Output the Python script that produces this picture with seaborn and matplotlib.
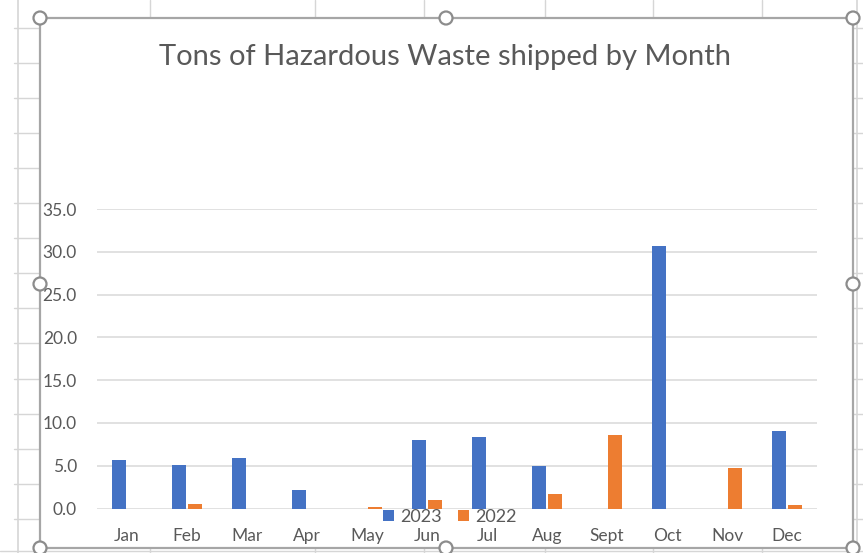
import matplotlib
matplotlib.use("Agg")
import matplotlib.pyplot as plt
import seaborn as sns
import pandas as pd
from matplotlib.lines import Line2D
from matplotlib.patches import Rectangle, Ellipse

months = ["Jan", "Feb", "Mar", "Apr", "May", "Jun", "Jul", "Aug", "Sept", "Oct", "Nov", "Dec"]
series_names = ["2023", "2022"]
tons_2023 = [5.65, 5.1, 5.85, 2.2, 0.0, 8.0, 8.35, 4.95, 0.0, 30.7, 0.0, 9.1]
tons_2022 = [0.0, 0.55, 0.0, 0.0, 0.2, 1.05, 0.0, 1.7, 8.6, 0.0, 4.7, 0.4]
y_ticks = [0, 5, 10, 15, 20, 25, 30, 35]
title = "Tons of Hazardous Waste shipped by Month"

df = pd.DataFrame({
    "Month": months * 2,
    "Year": [series_names[0]] * len(months) + [series_names[1]] * len(months),
    "Tons": tons_2023 + tons_2022,
})

sns.set_theme(style="white")
plt.rcParams["font.family"] = ["Lato", "DejaVu Sans"]

W, H = 863, 553
fig = plt.figure(figsize=(W / 100, H / 100), dpi=100)
fig.patch.set_facecolor("white")

def fx(x):
    return x / W

def fy(y):
    return 1 - y / H

# spreadsheet cell grid in background
cell = "#D6D6D6"
row_ys = [28 + 35.05 * k for k in range(16)]
col_xs = [150, 315, 424, 545, 653, 762]
for y in row_ys:
    fig.add_artist(Line2D([fx(14), fx(40)], [fy(y), fy(y)], color=cell, lw=1, transform=fig.transFigure, zorder=-3))
    fig.add_artist(Line2D([fx(853), fx(863)], [fy(y), fy(y)], color=cell, lw=1, transform=fig.transFigure, zorder=-3))
fig.add_artist(Line2D([fx(18), fx(18)], [0, 1], color=cell, lw=1.2, transform=fig.transFigure, zorder=-3))
fig.add_artist(Line2D([fx(857), fx(857)], [0, 1], color=cell, lw=1.2, transform=fig.transFigure, zorder=-3))
for x in col_xs:
    fig.add_artist(Line2D([fx(x), fx(x)], [fy(0), fy(18)], color=cell, lw=1, transform=fig.transFigure, zorder=-3))
    fig.add_artist(Line2D([fx(x), fx(x)], [fy(548), fy(553)], color=cell, lw=1, transform=fig.transFigure, zorder=-3))
fig.add_artist(Line2D([0, 1], [fy(551), fy(551)], color=cell, lw=1, transform=fig.transFigure, zorder=-3))

# chart frame
fig.add_artist(Rectangle((fx(40), fy(548)), fx(853) - fx(40), fy(18) - fy(548),
                         facecolor="white", edgecolor="#A6A6A6", lw=1.6,
                         transform=fig.transFigure, zorder=-2))

ax = fig.add_axes([fx(97), fy(508.5), fx(817) - fx(97), fy(209) - fy(508.5)])
ax.set_facecolor("none")
ax.set_zorder(1)

sns.barplot(data=df, x="Month", y="Tons", hue="Year", order=months, hue_order=series_names,
            palette=["#4472C4", "#ED7D31"], saturation=1, width=0.54, gap=0.13, linewidth=0,
            errorbar=None, ax=ax, zorder=3)

ax.set_ylim(0, 35)
ax.set_xlim(-0.5, len(months) - 0.5)
ax.set_yticks(y_ticks)
ax.set_yticklabels([f"{v:.1f}" for v in y_ticks])
ax.yaxis.grid(True, color="#D9D9D9", lw=1.1, zorder=0)
ax.xaxis.grid(False)
ax.set_axisbelow(True)
for s in ax.spines.values():
    s.set_visible(False)
ax.tick_params(axis="y", length=0, pad=14.5, labelsize=12.5, labelcolor="#595959")
ax.tick_params(axis="x", length=0, pad=14, labelsize=12.5, labelcolor="#595959")
ax.set_xlabel("")
ax.set_ylabel("")

leg = ax.get_legend()
handles = leg.legend_handles
leg.remove()
fig.legend(handles, series_names, loc="center", bbox_to_anchor=(fx(450), fy(517)),
           ncol=2, frameon=False, fontsize=13, labelcolor="#595959",
           handlelength=0.6, handleheight=0.6, handletextpad=0.35, columnspacing=0.9)

fig.text(fx(445), fy(57), title, ha="center", va="center", fontsize=21, color="#595959")

# selection handles
for (hx, hy) in [(40, 18), (446, 18), (853, 18), (40, 284), (853, 284), (40, 548), (446, 548), (853, 548)]:
    fig.add_artist(Ellipse((fx(hx), fy(hy)), 13 / W, 13 / H, facecolor="white", edgecolor="#8C8C8C",
                           lw=1.6, transform=fig.transFigure, zorder=10))

fig.savefig("out.png", dpi=100, facecolor="white")
